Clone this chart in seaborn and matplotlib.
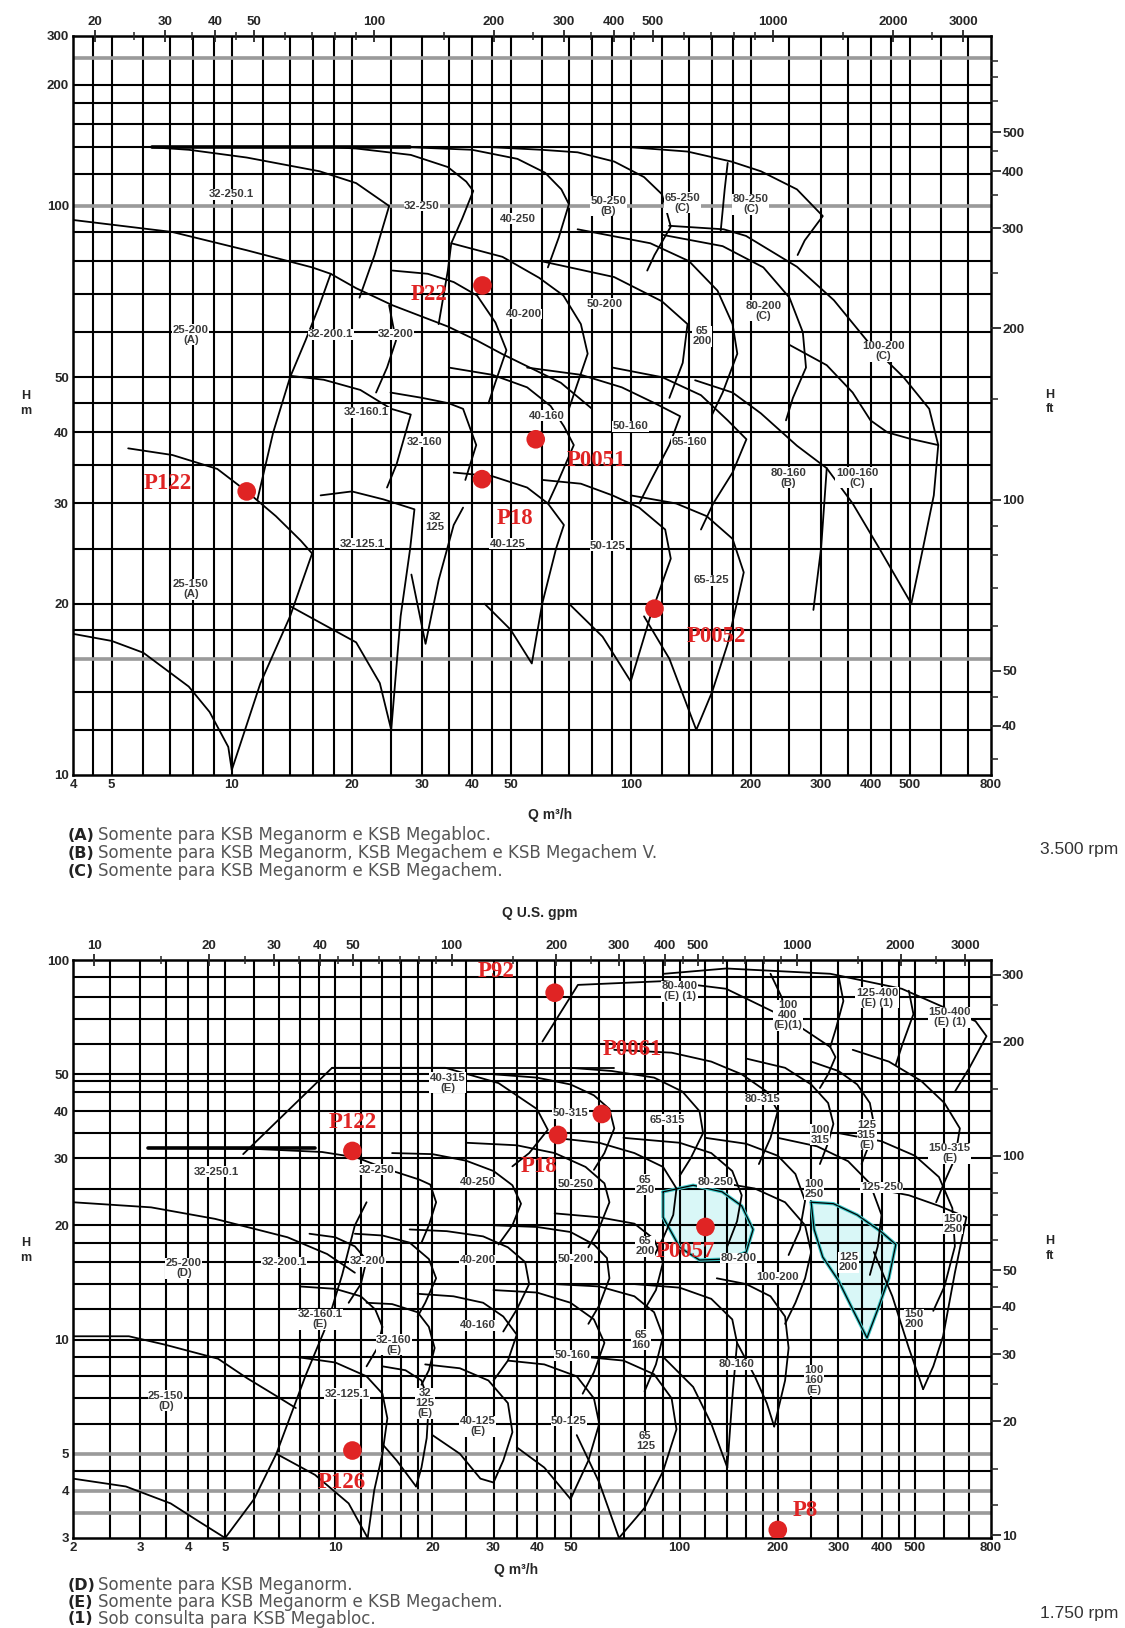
import numpy as np
import pandas as pd
import seaborn as sns
import matplotlib.pyplot as plt
from matplotlib.ticker import FixedLocator, FixedFormatter, NullFormatter, NullLocator

sns.set_theme(style="white")
plt.rcParams["font.family"] = ["Liberation Sans", "DejaVu Sans"]

# ---------------- axes, ticks, grid ----------------
TOP_Q_TICKS = [4, 5, 10, 20, 30, 40, 50, 100, 200, 300, 400, 500, 800]
TOP_H_TICKS = [10, 20, 30, 40, 50, 100, 200, 300]
TOP_Q_GRID = [4.5, 5, 6, 7, 8, 9, 10, 12, 14, 16, 18, 20, 25, 30, 35, 40, 45, 50, 60, 70, 80, 90,
              100, 120, 140, 160, 180, 200, 250, 300, 350, 400, 450, 500, 600, 700]
TOP_H_GRID = [12, 14, 16, 18, 20, 25, 30, 35, 40, 45, 50, 60, 70, 80, 90, 100, 120, 140, 160, 180, 200, 250]
TOP_H_GREY = [16, 100, 250]
TOP_GPM_MAJOR = [20, 30, 40, 50, 100, 200, 300, 400, 500, 1000, 2000, 3000]
TOP_GPM_MINOR = [25, 35, 45, 60, 70, 80, 90, 150, 250, 350, 450, 600, 700, 800, 900, 1500, 2500]
TOP_FT_MAJOR = [40, 50, 100, 200, 300, 400, 500]
TOP_FT_MINOR = [35, 45, 60, 70, 80, 90, 150, 250, 350, 450, 600, 700, 800]
# the head axis of the 3500 rpm chart is squeezed above 100 m
TOP_H_LOG_ANCHORS = [-3, 1, 2, 2.301, 2.477, 4]
TOP_H_POS_ANCHORS = [-2276, 0, 569, 690, 739, 1162]

BOT_Q_TICKS = [2, 3, 4, 5, 10, 20, 30, 40, 50, 100, 200, 300, 400, 500, 800]
BOT_H_TICKS = [3, 4, 5, 10, 20, 30, 40, 50, 100]
BOT_Q_GRID = [2.5, 3, 3.5, 4, 4.5, 5, 6, 7, 8, 9, 10, 12, 14, 16, 18, 20, 25, 30, 35, 40, 45, 50, 60, 70,
              80, 90, 100, 120, 140, 160, 180, 200, 250, 300, 350, 400, 450, 500, 600, 700]
BOT_H_GRID = [3.5, 4, 4.5, 5, 6, 7, 8, 9, 10, 12, 14, 16, 18, 20, 25, 30, 35, 40, 45, 48, 50, 60, 70, 80, 90]
BOT_H_GREY = [3.5, 4, 5]
BOT_GPM_MAJOR = [10, 20, 30, 40, 50, 100, 200, 300, 400, 500, 1000, 2000, 3000]
BOT_GPM_MINOR = [15, 25, 35, 45, 60, 70, 80, 90, 150, 250, 350, 450, 600, 700, 800, 900, 1500, 2500]
BOT_FT_MAJOR = [10, 20, 30, 40, 50, 100, 200, 300]
BOT_FT_MINOR = [12, 15, 25, 35, 45, 60, 70, 80, 90, 150, 250]
# the flow axis of the 1750 rpm chart is a little stretched at the low end
BOT_Q_LOG_ANCHORS = [-3, 0.30103, 0.69897, 1, 1.30103, 1.69897, 2, 2.30103, 2.69897, 2.90309, 5]
BOT_Q_POS_ANCHORS = [-1261, 0, 152, 262, 359, 497, 606, 704, 841, 917, 1697]

# ---------------- 3500 rpm curves (Q m3/h, H m) ----------------
top_shutoff = [(6.3, 140), (28, 140)]
top_32_250_1 = [(6.3, 140), (7.8, 138), (10.9, 132), (16.6, 122), (20.5, 114), (24.8, 100), (22.8, 82), (20.9, 69)]
top_32_250 = [(18, 140), (20.5, 139), (28.1, 134), (34.8, 125), (38.7, 115), (40.3, 109), (37.8, 95), (35.5, 86), (34.8, 77), (33, 62)]
top_40_250 = [(28, 140), (40, 138), (52, 131), (61, 121), (67, 110), (70, 101), (66, 88), (62, 78)]
top_50_250 = [(45, 140), (59.6, 138), (73.6, 136), (90.9, 129), (108, 118), (119.7, 107), (126, 92), (114.7, 82), (110, 77)]
top_65_250 = [(175, 128), (172, 110), (168, 90)]
top_80_250 = [(100, 140), (138.8, 136.6), (178.6, 129), (212, 122), (261, 110), (303, 96), (273, 87), (262, 82)]
top_25_200 = [(4, 94.5), (7.1, 90), (10.9, 83.6), (15.9, 78), (17.7, 76), (20.5, 71.7), (25.3, 66.9), (34.8, 61.4),
              (41.2, 58), (47.7, 54.9), (66.8, 48.9), (80, 44)]
top_v_edge = [(17.7, 76), (16.6, 67), (15.3, 58), (14, 50), (12.7, 40), (11.6, 30.5)]
top_32_200_1 = [(24.8, 66.9), (25.8, 58), (24.5, 52), (23, 47)]
top_32_200 = [(25.3, 77), (31, 76), (36, 73.5), (41.2, 69.6), (45.8, 62.4), (48.8, 55.8), (45.8, 49), (44, 45)]
top_40_200 = [(35.5, 86), (47.7, 81.4), (58.9, 74.8), (67.8, 69.6), (75, 62), (78, 55), (73, 48), (70, 44)]
top_50_200 = [(59.6, 80), (90.9, 75), (119.7, 68), (138.8, 62), (135, 53), (125, 46)]
top_65_200 = [(73.6, 91), (112, 86), (140, 80), (165, 71), (180, 62), (185, 55), (170, 47), (160, 43)]
top_80_200 = [(120, 89), (170, 85), (215, 78), (250, 69), (270, 60), (275, 52), (255, 46), (245, 42)]
top_100_200 = [(124.8, 92.3), (171, 91), (194.5, 88.6), (261, 78.2), (323, 68.3), (399, 57), (483, 50),
               (560, 44), (590, 38)]
top_32_160_1 = [(14, 50.3), (17, 49.5), (21, 47.5), (25.1, 44), (28.1, 43), (25.9, 35.2), (24.5, 32)]
top_32_160 = [(25, 47), (30, 46), (35, 45), (38, 44), (41, 38), (38.5, 33)]
top_40_160 = [(35, 52), (45, 50.5), (55, 48), (63, 44.5), (68, 41), (72, 38), (66, 33), (62, 30)]
top_50_160 = [(55, 52), (75, 50.5), (95, 48), (115, 45), (133, 42.7), (125, 38), (112, 32.8), (105, 30)]
top_65_160 = [(90, 52), (120, 50), (150, 46.5), (175, 42), (195, 38.9), (180, 34), (161, 30), (150, 27)]
top_80_160 = [(145, 49.4), (180, 47), (212, 43.2), (261, 37.9), (310, 34.6), (300, 25), (287, 19.5)]
top_100_160 = [(250, 57), (310, 52.5), (360, 47), (399, 42), (440, 40), (500, 39), (590, 38), (575, 31), (540, 25), (505, 20)]
top_100_160_low = [(310, 34.6), (360, 30), (420, 25), (505, 20)]
top_25_150 = [(5.5, 37.5), (7.1, 36.5), (9.2, 34.5), (10.9, 31.5), (12.9, 28.5), (14.9, 25.8), (15.9, 24.5),
              (14, 19), (11.8, 14.5), (10, 10.2)]
top_25_150_low = [(4, 17.7), (5, 17.2), (6, 16.4), (7.8, 14.3), (8.8, 12.9), (9.8, 11.2), (10, 10.2)]
top_32_125_1 = [(16.7, 31), (20, 31.5), (24, 30.5), (28.7, 29.3), (28, 25), (26.5, 19), (25.1, 12)]
top_32_125_1_low = [(14, 19.8), (20.5, 17.1), (23.5, 14.5), (25.1, 12)]
top_32_125 = [(28.2, 22.5), (30.6, 17), (33, 22), (36, 27.5), (38, 29.5)]
top_40_125 = [(36, 34), (45, 33.5), (55, 32), (62, 30), (68, 27.5), (65, 25), (60, 20), (56.5, 15.7), (50, 18), (43, 20)]
top_50_125 = [(60, 33), (75, 32.5), (90, 31), (105, 29.5), (122, 27), (126, 24), (112, 19), (100, 14.6), (85, 17.5), (70, 20)]
top_65_125 = [(100, 31), (130, 30), (155, 28.5), (180, 26), (192, 22.7), (175, 17), (160, 14), (146, 12), (125, 16), (108, 19)]

TOP_CURVES = [top_32_250_1, top_32_250, top_40_250, top_50_250, top_65_250, top_80_250,
              top_25_200, top_v_edge, top_32_200_1, top_32_200, top_40_200, top_50_200, top_65_200,
              top_80_200, top_100_200, top_32_160_1, top_32_160, top_40_160, top_50_160, top_65_160,
              top_80_160, top_100_160, top_100_160_low, top_25_150, top_25_150_low, top_32_125_1,
              top_32_125_1_low, top_32_125, top_40_125, top_50_125, top_65_125]

TOP_LABELS = [("32-250.1", 10, 107), ("32-250", 30, 100), ("40-250", 52, 95),
              ("50-250\n(B)", 88, 100), ("65-250\n(C)", 135, 102), ("80-250\n(C)", 200, 101),
              ("25-200\n(A)", 7.9, 59.4), ("32-200.1", 17.7, 59.5), ("32-200", 25.8, 59.5),
              ("40-200", 54, 64.6), ("50-200", 86, 67.3), ("65\n200", 151, 59), ("80-200\n(C)", 215, 65.5),
              ("100-200\n(C)", 430, 55.5), ("32-160.1", 21.8, 43.4), ("32-160", 30.5, 38.5),
              ("40-160", 61.6, 42.8), ("50-160", 100, 41), ("65-160", 140, 38.5),
              ("80-160\n(B)", 248, 33.3), ("100-160\n(C)", 369, 33.3), ("25-150\n(A)", 7.9, 21.2),
              ("32-125.1", 21.2, 25.5), ("32\n125", 32.3, 27.8), ("40-125", 49.2, 25.5),
              ("50-125", 87.7, 25.3), ("65-125", 159, 22)]

TOP_PT_NAMES = ["P22", "P0051", "P122", "P18", "P0052"]
TOP_PT_Q = [42.5, 57.8, 10.9, 42.4, 114.7]
TOP_PT_H = [72.5, 38.9, 31.5, 33.1, 19.6]
TOP_PT_TEXT_Q = [31.2, 82, 6.9, 51.4, 164]
TOP_PT_TEXT_H = [70, 35.7, 32.5, 28.2, 17.5]

# ---------------- 1750 rpm curves (Q m3/h, H m) ----------------
bot_80_400 = [(41.5, 61), (52.4, 86), (90.6, 88), (138.8, 84), (214, 70), (284, 59), (294, 55.5), (280, 50), (265, 46)]
bot_400_top = [(90.6, 92), (139, 95), (284, 92), (458, 84), (727, 69), (778, 63), (700, 52), (640, 45)]
bot_100_400_l = [(190, 92), (205, 80), (214, 70)]
bot_100_400_r = [(300, 91), (310, 78), (295, 66), (284, 59)]
bot_125_400_r = [(480, 83), (495, 72), (460, 60), (440, 53)]
bot_315_shut = [(9.8, 52), (66, 52)]
bot_40_315 = [(5.6, 30.8), (9.8, 52), (21.8, 52), (31, 47.4), (40, 40.5), (43, 35.7), (38, 31), (34, 28.6)]
bot_50_315 = [(30, 50), (40, 49), (50, 47), (58, 44), (64, 40.5), (66, 36), (62, 31), (58, 28)]
bot_65_315 = [(50, 52), (65, 51), (85, 49), (102, 45), (115, 40), (118, 35), (108, 30), (100, 27)]
bot_80_315 = [(66, 58), (95, 57), (125, 54), (155, 50), (185, 45), (200, 40), (190, 34), (175, 29)]
bot_100_315 = [(160, 55), (210, 52), (250, 47), (280, 42), (290, 37), (280, 33), (265, 29)]
bot_125_315 = [(250, 54), (300, 51), (340, 47), (370, 42), (380, 37), (370, 33), (350, 29)]
bot_150_315 = [(330, 58), (420, 54), (520, 48), (600, 42), (660, 36), (640, 30), (600, 26), (570, 23)]
bot_250_shut = [(3.14, 32), (8.8, 32)]
bot_32_250_1 = [(3.14, 32), (6, 31.8), (9.2, 31.2), (11.6, 30.2), (14.5, 28.1), (18.2, 26.4), (19.7, 25.6),
                (20.5, 23), (19.5, 20), (18.5, 18)]
bot_32_250_1_low = [(2, 23), (3.2, 22.3), (4.7, 20.8), (7.4, 18.6), (9.5, 16.8), (11.5, 15)]
bot_40_250 = [(15, 31), (20, 30.8), (25, 29.6), (30, 27.8), (34, 25.5), (36, 22.8), (34, 20), (31, 17.8)]
bot_50_250 = [(25, 33), (35, 32.5), (45, 31), (55, 28.5), (62, 25.8), (64, 23), (60, 19.7), (56, 17.5)]
bot_65_250 = [(45, 34), (60, 33), (75, 31), (90, 28.5), (98, 25), (96, 21.3), (90, 18.5), (85, 16.6)]
bot_80_250 = [(70, 34), (100, 33), (125, 31), (145, 27.8), (155, 24), (150, 20.5), (140, 17.6)]
bot_100_250 = [(120, 34), (160, 32.8), (200, 30.5), (225, 27.3), (240, 23.2), (232, 19.5), (215, 16.7)]
bot_125_250 = [(200, 34), (260, 32.3), (320, 29.5), (370, 25.8), (400, 21.3), (390, 17.6), (370, 14.8)]
bot_150_250 = [(300, 35), (400, 33.3), (500, 30.5), (580, 26.8), (630, 22.2), (640, 17.6), (600, 13.8), (560, 11.9)]
bot_v_edge = [(5.0, 3.0), (6.0, 3.8), (6.9, 5.0), (8.3, 8.05), (9.5, 11), (10.5, 14.8), (11.5, 20), (12.5, 23)]
bot_32_200_1 = [(8.5, 19), (10, 18.6), (11.5, 17.6), (12.5, 16.2), (12, 14), (11, 12.5)]
bot_32_200 = [(11.5, 19), (14, 18.8), (17, 18), (19.5, 16.3), (20.5, 14.5), (19, 12.5), (18, 11.5)]
bot_40_200 = [(17, 19.5), (22, 19.3), (28, 18.7), (33, 17.5), (37, 16), (38, 14), (35, 12), (32, 10.5)]
bot_50_200 = [(30, 20), (40, 19.8), (50, 19.2), (58, 17.8), (63, 16.4), (64, 14.5), (60, 12.3), (56, 11)]
bot_65_200 = [(45, 21.5), (60, 21), (75, 20.2), (85, 18.4), (90, 16), (86, 13.5), (80, 12)]
bot_80_200 = [(90, 24.5), (110, 25.5), (135, 24.5), (155, 22.5), (168, 19.5), (160, 17), (140, 16.3), (115, 16.2),
              (100, 17.5), (90, 21), (90, 24.5)]
bot_100_200 = [(130, 26), (170, 25), (210, 23), (240, 20), (250, 17), (240, 14.5), (225, 12.5), (210, 11)]
bot_125_200 = [(250, 23), (290, 22.8), (340, 21.3), (400, 19.2), (440, 17.8), (420, 14.5), (390, 12), (363, 10.1),
               (330, 12), (300, 14.3), (270, 16.5), (255, 19.5), (250, 23)]
bot_150_200 = [(380, 25), (480, 24), (580, 22.5), (687, 21), (640, 15), (595, 10.2), (560, 8.5), (526, 7.4)]
bot_150_200_low = [(380, 17), (430, 13), (480, 9.5), (526, 7.4)]
bot_25_150 = [(2, 10.2), (2.8, 10.2), (3.47, 9.7), (4.79, 8.9), (5.75, 7.9), (6.9, 7.1), (7.8, 6.6)]
bot_25_150_low = [(2, 4.3), (2.75, 4.1), (3.6, 3.7), (4.3, 3.3), (5, 3.0)]
bot_32_160_1 = [(8, 13.8), (10, 13.6), (12, 13), (13.3, 12), (14, 10.8), (13.5, 9.5), (12.5, 8.5)]
bot_32_160 = [(12.5, 12.5), (15, 12.4), (18, 11.8), (19.5, 10.8), (20.3, 9.5), (19.5, 8.3), (18.5, 7.6)]
bot_40_160 = [(18, 13.2), (23, 13), (28, 12.5), (32, 11.5), (35, 10.3), (33, 8.8), (30, 7.8)]
bot_50_160 = [(30, 13.5), (40, 13.3), (50, 12.5), (58, 11.3), (62, 9.8), (58, 8.2), (54, 7.2)]
bot_65_160 = [(45, 14), (60, 13.8), (75, 13), (85, 11.8), (90, 10.2), (86, 8.6), (80, 7.3)]
bot_80_160 = [(75, 14), (100, 13.7), (125, 12.8), (145, 11.3), (150, 9.8), (145, 7), (140, 4.6)]
bot_80_160_low = [(90, 9), (110, 7.5), (125, 6), (140, 4.6)]
bot_100_160 = [(130, 14.5), (160, 14), (190, 13), (210, 11.5), (215, 9.5), (210, 7.8), (195, 5.9)]
bot_100_160_low = [(150, 9.8), (170, 8), (185, 6.8), (195, 5.9)]
bot_32_125_1 = [(7.8, 9), (10, 8.7), (12.5, 8), (14, 7.2), (14.5, 6.2), (14, 5), (13.2, 4), (12.6, 3.0)]
bot_32_125_1_low = [(6.9, 5.0), (8.8, 4.4), (11, 3.7), (12.6, 3.0)]
bot_32_125 = [(14, 8.5), (16.5, 8.3), (18.5, 7.8), (19.5, 6.8), (19.2, 5.5), (18.5, 4.6), (17.8, 4.1)]
bot_32_125_low = [(14, 5.3), (15.5, 4.8), (17.8, 4.1)]
bot_40_125 = [(19, 8.6), (24, 8.4), (29, 7.8), (33, 6.8), (34, 5.7), (32, 4.8), (30, 4.2)]
bot_40_125_low = [(20, 5.6), (24, 5), (27.5, 4.3), (30, 4.2)]
bot_50_125 = [(33, 8.8), (42, 8.6), (52, 8), (58, 7), (60, 6), (56, 4.8), (50, 3.8)]
bot_50_125_low = [(35, 5.2), (42, 4.6), (50, 3.8)]
bot_65_125 = [(55, 9), (70, 8.8), (85, 8.1), (95, 7), (98, 5.8), (90, 4.5), (80, 3.6), (68, 3.0)]
bot_65_125_low = [(52, 5.6), (60, 4.2), (68, 3.0)]

BOT_CURVES = [bot_80_400, bot_400_top, bot_100_400_l, bot_100_400_r, bot_125_400_r, bot_315_shut,
              bot_40_315, bot_50_315, bot_65_315, bot_80_315, bot_100_315, bot_125_315, bot_150_315,
              bot_32_250_1, bot_32_250_1_low, bot_40_250, bot_50_250, bot_65_250, bot_80_250,
              bot_100_250, bot_125_250, bot_150_250, bot_v_edge, bot_32_200_1, bot_32_200, bot_40_200,
              bot_50_200, bot_65_200, bot_100_200, bot_150_200, bot_150_200_low, bot_25_150,
              bot_25_150_low, bot_32_160_1, bot_32_160, bot_40_160, bot_50_160, bot_65_160, bot_80_160,
              bot_80_160_low, bot_100_160, bot_100_160_low, bot_32_125_1, bot_32_125_1_low, bot_32_125,
              bot_32_125_low, bot_40_125, bot_40_125_low, bot_50_125, bot_50_125_low, bot_65_125,
              bot_65_125_low]
BOT_CYAN = [bot_80_200, bot_125_200]

BOT_LABELS = [("80-400\n(E) (1)", 100, 82.7), ("100\n400\n(E)(1)", 214, 71.5), ("125-400\n(E) (1)", 388, 79.6),
              ("150-400\n(E) (1)", 620, 70.6), ("40-315\n(E)", 22.1, 47.5), ("50-315", 50, 39.5),
              ("65-315", 92.5, 38), ("80-315", 179, 43), ("100\n315", 265, 34.6), ("125\n315\n(E)", 362, 34.6),
              ("150-315\n(E)", 620, 31), ("32-250.1", 4.74, 27.7), ("32-250", 13.4, 28),
              ("40-250", 27, 26), ("50-250", 51.7, 25.7), ("65\n250", 80.4, 25.6), ("80-250", 129, 26),
              ("100\n250", 255, 24.9), ("125-250", 401, 25.2), ("150\n250", 632, 20.2),
              ("25-200\n(D)", 3.9, 15.4), ("32-200.1", 7.25, 16), ("32-200", 12.6, 16.1),
              ("40-200", 27, 16.2), ("50-200", 51.7, 16.3), ("65\n200", 80.4, 17.6), ("80-200", 152, 16.4),
              ("100-200", 200, 14.6), ("125\n200", 321, 16), ("150\n200", 497, 11.3),
              ("32-160.1\n(E)", 9.1, 11.3), ("32-160\n(E)", 15.2, 9.7), ("40-160", 27, 10.9),
              ("50-160", 50.7, 9.1), ("65\n160", 78.3, 10), ("80-160", 149, 8.6), ("100\n160\n(E)", 255, 7.8),
              ("25-150\n(D)", 3.5, 6.9), ("32-125.1", 10.9, 7.2), ("32\n125\n(E)", 19, 6.8),
              ("40-125\n(E)", 27, 5.9), ("50-125", 49.5, 6.1), ("65\n125", 80.4, 5.4)]

BOT_PT_NAMES = ["P92", "P0061", "P122", "P18", "P0057", "P126", "P8"]
BOT_PT_Q = [45, 61, 11.3, 46, 120, 11.3, 200]
BOT_PT_H = [82, 39.3, 31.4, 34.6, 19.8, 5.1, 3.15]
BOT_PT_TEXT_Q = [30.5, 74, 11.3, 40.6, 104, 10.45, 240]
BOT_PT_TEXT_H = [93, 58, 37.3, 28.6, 17.1, 4.2, 3.55]

TOP_NOTES = [("(A)", "Somente para KSB Meganorm e KSB Megabloc."),
             ("(B)", "Somente para KSB Meganorm, KSB Megachem e KSB Megachem V."),
             ("(C)", "Somente para KSB Meganorm e KSB Megachem.")]
BOT_NOTES = [("(D)", "Somente para KSB Meganorm."),
             ("(E)", "Somente para KSB Meganorm e KSB Megachem."),
             ("(1)", "Sob consulta para KSB Megabloc.")]

RED = "#e02424"
M3H_TO_GPM = 4.403
FT_TO_M = 0.3048


def top_fwd(v):
    v = np.clip(np.asarray(v, dtype=float), 1e-3, 1e4)
    return np.interp(np.log10(v), TOP_H_LOG_ANCHORS, TOP_H_POS_ANCHORS)


def top_inv(p):
    return 10 ** np.interp(p, TOP_H_POS_ANCHORS, TOP_H_LOG_ANCHORS)


def bot_fwd(v):
    v = np.clip(np.asarray(v, dtype=float), 1e-3, 1e5)
    return np.interp(np.log10(v), BOT_Q_LOG_ANCHORS, BOT_Q_POS_ANCHORS)


def bot_inv(p):
    return 10 ** np.interp(p, BOT_Q_POS_ANCHORS, BOT_Q_LOG_ANCHORS)


def set_scales(ax, kind, which):
    if which == "y":
        if kind == "top":
            ax.set_yscale("function", functions=(top_fwd, top_inv))
        else:
            ax.set_yscale("log")
    else:
        if kind == "top":
            ax.set_xscale("log")
        else:
            ax.set_xscale("function", functions=(bot_fwd, bot_inv))


def draw_chart(ax, curves, heavy, labels, pts, cyan=None):
    names, pq, ph, tq, th = pts
    rows = [(i, q, h) for i, c in enumerate(curves) for q, h in c]
    df = pd.DataFrame(rows, columns=["curve", "Q", "H"])
    sns.lineplot(data=df, x="Q", y="H", units="curve", estimator=None, sort=False,
                 color="black", linewidth=1.3, ax=ax, legend=False, zorder=3)
    hv = pd.DataFrame(heavy, columns=["Q", "H"])
    sns.lineplot(data=hv, x="Q", y="H", estimator=None, sort=False, color="black",
                 linewidth=2.6, ax=ax, legend=False, zorder=3)
    if cyan:
        for c in cyan:
            q, h = zip(*c)
            ax.fill(q, h, facecolor="#d9f7f7", edgecolor="none", zorder=0.5)
            ax.plot(q, h, color="#3cc8c8", lw=2.4, zorder=2.5)
            ax.plot(q, h, color="black", lw=0.9, zorder=3)
    for s, q, h in labels:
        ax.text(q, h, s, ha="center", va="center", fontsize=8.2, fontweight="bold", linespacing=1.0,
                color="#3a3a3a", bbox=dict(facecolor="white", edgecolor="none", pad=0.3), zorder=5)
    sns.scatterplot(x=pq, y=ph, s=180, color=RED, edgecolor="none", ax=ax, zorder=7, legend=False)
    for s, q, h in zip(names, tq, th):
        ax.text(q, h, s, ha="center", va="center", fontsize=16.5, fontweight="bold", color=RED,
                family=["Liberation Serif", "DejaVu Serif"], zorder=7)
    ax.set_xlabel("")
    ax.set_ylabel("")


def style_chart(ax, kind, qlim, hlim, qticks, hticks, qgrid, hgrid, hgrey, gpm_major, gpm_minor, ft_major, ft_minor):
    set_scales(ax, kind, "x")
    set_scales(ax, kind, "y")
    ax.set_xlim(*qlim)
    ax.set_ylim(*hlim)
    for q in qgrid:
        ax.axvline(q, color="black", lw=1.5, zorder=1)
    for h in hgrid:
        ax.axhline(h, color="black", lw=1.5, zorder=1)
    for h in hgrey:
        ax.axhline(h, color="#9a9a9a", lw=2.6, zorder=1.1)
    ax.xaxis.set_major_locator(FixedLocator(qticks))
    ax.xaxis.set_major_formatter(FixedFormatter([str(v) for v in qticks]))
    ax.xaxis.set_minor_locator(NullLocator())
    ax.yaxis.set_major_locator(FixedLocator(hticks))
    ax.yaxis.set_major_formatter(FixedFormatter([str(v) for v in hticks]))
    ax.yaxis.set_minor_locator(NullLocator())
    ax.tick_params(which="both", length=0, labelsize=9.5, pad=3)
    for lab in ax.get_xticklabels() + ax.get_yticklabels():
        lab.set_fontweight("bold")
    for sp in ax.spines.values():
        sp.set_color("black")
        sp.set_linewidth(1.8)

    tx = ax.twiny()
    set_scales(tx, kind, "x")
    tx.set_xlim(*qlim)
    tx.xaxis.set_major_locator(FixedLocator([g / M3H_TO_GPM for g in gpm_major]))
    tx.xaxis.set_major_formatter(FixedFormatter([str(g) for g in gpm_major]))
    tx.xaxis.set_minor_locator(FixedLocator([g / M3H_TO_GPM for g in gpm_minor]))
    tx.xaxis.set_minor_formatter(NullFormatter())
    tx.tick_params(axis="x", which="major", direction="inout", length=9, width=1.3, labelsize=9.5, pad=1)
    tx.tick_params(axis="x", which="minor", direction="inout", length=6, width=1.1)

    ty = ax.twinx()
    set_scales(ty, kind, "y")
    ty.set_ylim(*hlim)
    ty.yaxis.set_major_locator(FixedLocator([f * FT_TO_M for f in ft_major]))
    ty.yaxis.set_major_formatter(FixedFormatter([str(f) for f in ft_major]))
    ty.yaxis.set_minor_locator(FixedLocator([f * FT_TO_M for f in ft_minor]))
    ty.yaxis.set_minor_formatter(NullFormatter())
    ty.tick_params(axis="y", which="major", direction="out", length=7, width=1.3, labelsize=9.5, pad=1)
    ty.tick_params(axis="y", which="minor", direction="out", length=5, width=1.1)
    for t in (tx, ty):
        t.grid(False)
        for lab in t.get_xticklabels() + t.get_yticklabels():
            lab.set_fontweight("bold")
        for sp in t.spines.values():
            sp.set_visible(False)


fig = plt.figure(figsize=(11.25, 16.28), dpi=100)
ax_top = fig.add_axes([0.0649, 0.5240, 0.8160, 0.4539])
ax_bot = fig.add_axes([0.0649, 0.0553, 0.8160, 0.3550])

draw_chart(ax_top, TOP_CURVES, top_shutoff, TOP_LABELS,
           (TOP_PT_NAMES, TOP_PT_Q, TOP_PT_H, TOP_PT_TEXT_Q, TOP_PT_TEXT_H))
style_chart(ax_top, "top", (4, 800), (10, 300), TOP_Q_TICKS, TOP_H_TICKS, TOP_Q_GRID, TOP_H_GRID,
            TOP_H_GREY, TOP_GPM_MAJOR, TOP_GPM_MINOR, TOP_FT_MAJOR, TOP_FT_MINOR)

draw_chart(ax_bot, BOT_CURVES, bot_250_shut, BOT_LABELS,
           (BOT_PT_NAMES, BOT_PT_Q, BOT_PT_H, BOT_PT_TEXT_Q, BOT_PT_TEXT_H), cyan=BOT_CYAN)
style_chart(ax_bot, "bot", (2, 800), (3, 100), BOT_Q_TICKS, BOT_H_TICKS, BOT_Q_GRID, BOT_H_GRID,
            BOT_H_GREY, BOT_GPM_MAJOR, BOT_GPM_MINOR, BOT_FT_MAJOR, BOT_FT_MINOR)

# axis titles and notes
fig.text(0.489, 0.4994, "Q m³/h", ha="center", va="center", fontsize=10, fontweight="bold")
fig.text(0.459, 0.0356, "Q m³/h", ha="center", va="center", fontsize=10, fontweight="bold")
fig.text(0.48, 0.439, "Q U.S. gpm", ha="center", va="center", fontsize=10, fontweight="bold")
fig.text(0.023, 0.752, "H\nm", ha="center", va="center", fontsize=9, fontweight="bold", linespacing=1.3)
fig.text(0.023, 0.232, "H\nm", ha="center", va="center", fontsize=9, fontweight="bold", linespacing=1.3)
fig.text(0.933, 0.753, "H\nft", ha="center", va="center", fontsize=9, fontweight="bold", linespacing=1.3)
fig.text(0.933, 0.233, "H\nft", ha="center", va="center", fontsize=9, fontweight="bold", linespacing=1.3)
fig.text(0.959, 0.4785, "3.500 rpm", ha="center", va="center", fontsize=12.5, color="#333333")
fig.text(0.959, 0.0086, "1.750 rpm", ha="center", va="center", fontsize=12.5, color="#333333")

NOTE_FONT = ["DejaVu Sans"]
for i, (tag, txt) in enumerate(TOP_NOTES):
    y = 0.4871 - i * 0.0112
    fig.text(0.060, y, tag, ha="left", va="center", fontsize=11.5, fontweight="bold", color="#222222", family=NOTE_FONT)
    fig.text(0.087, y, txt, ha="left", va="center", fontsize=12, color="#555555", family=NOTE_FONT)
for i, (tag, txt) in enumerate(BOT_NOTES):
    y = 0.0262 - i * 0.0103
    fig.text(0.060, y, tag, ha="left", va="center", fontsize=11.5, fontweight="bold", color="#222222", family=NOTE_FONT)
    fig.text(0.087, y, txt, ha="left", va="center", fontsize=12, color="#555555", family=NOTE_FONT)

fig.savefig("out.png", dpi=100, facecolor="white")
